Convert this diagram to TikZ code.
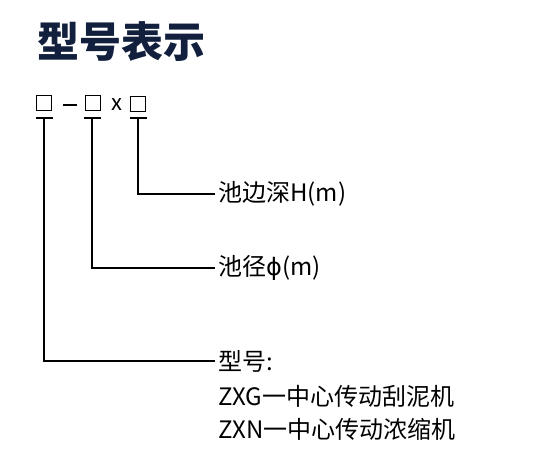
\documentclass[tikz,border=0pt]{standalone}
\usepackage{fontspec}
\setmainfont{Noto Sans CJK SC}
\newfontfamily\symfont{DejaVu Sans}
\usetikzlibrary{positioning}
\definecolor{titleblue}{RGB}{18,32,62}
\tikzset{
  slot/.style={draw,line width=1.3pt,minimum size=15pt,inner sep=0pt},
  lead/.style={line width=1.8pt},
  lbl/.style={anchor=west,inner sep=0pt,font=\fontsize{24}{24}\selectfont},
}

\begin{document}
\begin{tikzpicture}[x=1pt,y=-1pt]
\useasboundingbox (0,0) rectangle (560,462);
\node[anchor=west,inner sep=0pt,text=titleblue,font=\fontsize{42}{42}\selectfont\bfseries] (title) at (37,42) {型号表示};
% code line
\node[slot] (s1) at (44,103) {};
\node[slot] (s2) at (93,103) {};
\node[slot] (s3) at (138,104) {};
\node[inner sep=0pt] (dash) at (70,105) {\rule{14pt}{1.8pt}};
\node[inner sep=0pt,font=\fontsize{22}{22}\selectfont] (times) at (116.5,105) {x};
\coordinate (b1) at (44,118);
\coordinate (b2) at (92,118);
\coordinate (b3) at (138,118);
\foreach \b in {b1,b2,b3}
  \draw[lead] ([xshift=-8.5pt]\b) -- ([xshift=8.5pt]\b);
% labels
\node[lbl] (depth) at (218,194) {池边深H(m)};
\node[lbl] (diam) at (218,268) {池径{\symfont ϕ}(m)};
\node[lbl] (model) at (218,361) {型号:};
\node[lbl] (zxg) at (218,396) {ZXG一中心传动刮泥机};
\node[lbl] (zxn) at (218,429) {ZXN一中心传动浓缩机};
\draw[lead] (b3) |- ([xshift=-3pt]depth.west);
\draw[lead] (b2) |- ([xshift=-3pt]diam.west);
\draw[lead] (b1) |- ([xshift=-3pt]model.west);
\end{tikzpicture}
\end{document}
